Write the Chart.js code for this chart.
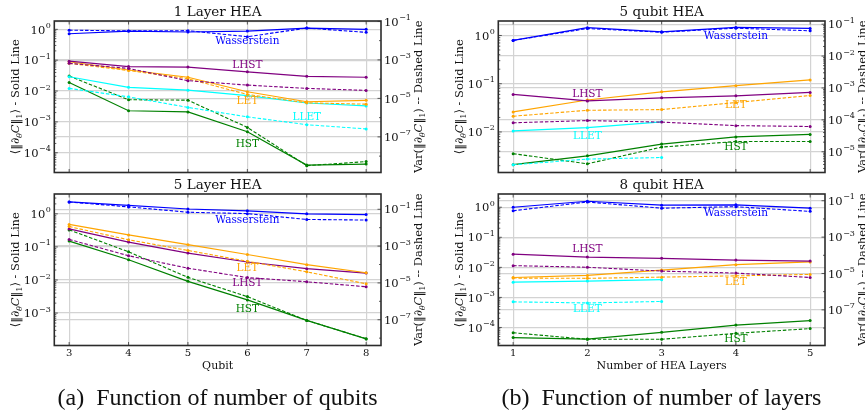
<!DOCTYPE html>
<html>
<head>
<meta charset="utf-8">
<script src="https://cdn.jsdelivr.net/npm/chart.js@4.4.1/dist/chart.umd.min.js"></script>
<style>
  html, body { margin: 0; padding: 0; background: #fff; overflow: hidden; width: 865px; height: 416px; }
  canvas { position: absolute; }
  .caption {
    position: absolute; top: 384px; line-height: 26px;
    font-family: "Liberation Serif", serif; font-size: 24px; color: #111;
    white-space: pre; transform: translateX(-50%);
  }
</style>
</head>
<body>
<canvas id="c1" width="430" height="190" style="left:0;top:0"></canvas>
<canvas id="c2" width="430" height="205" style="left:0;top:173px"></canvas>
<canvas id="c3" width="421" height="190" style="left:444px;top:0"></canvas>
<canvas id="c4" width="421" height="205" style="left:444px;top:173px"></canvas>
<div class="caption" style="left:217.5px">(a)  Function of number of qubits</div>
<div class="caption" style="left:661.5px">(b)  Function of number of layers</div>
<script>
// x values
const qubits = [3, 4, 5, 6, 7, 8];
const layers = [1, 2, 3, 4, 5];

// 1 layer HEA, mean gradient norm (solid) and its variance (dashed)
const l1WassMean = [0.72, 0.88, 0.82, 0.88, 1.10, 1.00];
const l1WassVar  = [0.035, 0.032, 0.033, 0.016, 0.045, 0.027];
const l1LhstMean = [0.093, 0.062, 0.060, 0.042, 0.030, 0.028];
const l1LhstVar  = [6.6e-4, 3.6e-4, 8.3e-5, 4.9e-5, 3.3e-5, 2.6e-5];
const l1LetMean  = [0.089, 0.048, 0.028, 0.0095, 0.0045, 0.0050];
const l1LetVar   = [6.6e-4, 2.8e-4, 1.05e-4, 1.6e-5, 5.9e-6, 5.0e-6];
const l1LletMean = [0.029, 0.0132, 0.0107, 0.0071, 0.0041, 0.0033];
const l1LletVar  = [3.3e-5, 1.2e-5, 3.4e-6, 1.1e-6, 4.3e-7, 2.6e-7];
const l1HstMean  = [0.019, 0.0023, 0.0021, 4.8e-4, 4.0e-5, 4.3e-5];
const l1HstVar   = [1.45e-4, 8.5e-6, 8.1e-6, 3.1e-7, 3.2e-9, 5.2e-9];

// 5 layer HEA
const l5WassMean = [2.3, 1.8, 1.4, 1.23, 1.0, 0.95];
const l5WassVar  = [0.25, 0.135, 0.069, 0.058, 0.028, 0.026];
const l5LetMean  = [0.48, 0.23, 0.117, 0.059, 0.029, 0.0166];
const l5LetVar   = [0.0115, 0.0022, 5.8e-4, 1.5e-4, 4.0e-5, 8.9e-6];
const l5LhstMean = [0.35, 0.14, 0.065, 0.035, 0.022, 0.0162];
const l5LhstVar  = [0.0023, 3.0e-4, 6.3e-5, 1.95e-5, 1.15e-5, 6.2e-6];
const l5HstMean  = [0.15, 0.041, 0.0091, 0.0025, 6.0e-4, 1.66e-4];
const l5HstVar   = [0.0076, 4.9e-4, 2.0e-5, 1.8e-6, 9.1e-8, 9.3e-9];

// 5 qubit HEA, varying layers
const q5WassMean = [0.79, 1.45, 1.19, 1.47, 1.40];
const q5WassVar  = [0.031, 0.073, 0.056, 0.075, 0.062];
const q5LhstMean = [0.060, 0.044, 0.051, 0.056, 0.066];
const q5LhstVar  = [8.1e-5, 9.5e-5, 8.5e-5, 6.6e-5, 6.2e-5];
const q5LetMean  = [0.026, 0.046, 0.068, 0.091, 0.12];
const q5LetVar   = [1.3e-4, 2.0e-4, 2.1e-4, 3.5e-4, 5.8e-4];
const q5LletMean = [0.0105, 0.0123, 0.0162];
const q5LletVar  = [3.9e-6, 5.9e-6, 6.6e-6];
const q5HstMean  = [0.0021, 0.0032, 0.0056, 0.0079, 0.0089];
const q5HstVar   = [8.7e-6, 4.2e-6, 1.4e-5, 2.1e-5, 2.1e-5];

// 8 qubit HEA
const q8WassMean = [1.0, 1.58, 1.17, 1.2, 0.93];
const q8WassVar  = [0.028, 0.085, 0.039, 0.047, 0.026];
const q8LhstMean = [0.0275, 0.022, 0.020, 0.0174, 0.0162];
const q8LhstVar  = [2.7e-5, 2.2e-5, 1.35e-5, 1.05e-5, 6.0e-6];
const q8LetMean  = [0.0046, 0.0054, 0.0081, 0.0123, 0.0151];
const q8LetVar   = [5.6e-6, 5.4e-6, 6.3e-6, 7.4e-6, 8.9e-6];
const q8LletMean = [0.0032, 0.0035, 0.0039];
const q8LletVar  = [2.75e-7, 2.4e-7, 2.9e-7];
const q8HstMean  = [4.6e-5, 4.1e-5, 6.9e-5, 1.2e-4, 1.7e-4];
const q8HstVar   = [5.5e-9, 2.4e-9, 2.4e-9, 5.1e-9, 9.3e-9];

const COLORS = { Wasserstein: '#0000ff', LHST: '#800080', LET: '#ffa500', LLET: '#00ffff', HST: '#008000' };
const PLOT = { left: 54.3, right: 381, top: 21, height: 151.5 };
const SERIF = '"DejaVu Serif", serif';

const panels = [
  { id: 'c1', title: '1 Layer HEA', xs: qubits, xRange: [2.75, 8.25],
    left: [-4.64, 0.27], right: [-8.85, -0.98], rightStep: 2, xLabel: null,
    series: [['Wasserstein', l1WassMean, l1WassVar], ['LHST', l1LhstMean, l1LhstVar],
             ['LET', l1LetMean, l1LetVar], ['LLET', l1LletMean, l1LletVar], ['HST', l1HstMean, l1HstVar]],
    notes: [['Wasserstein', 6, -0.40], ['LHST', 6, -1.18], ['LET', 6, -2.32], ['LLET', 7, -2.86], ['HST', 6, -3.72]] },
  { id: 'c2', title: '5 Layer HEA', xs: qubits, xRange: [2.75, 8.25],
    left: [-3.98, 0.60], right: [-8.40, -0.17], rightStep: 2, xLabel: 'Qubit',
    series: [['Wasserstein', l5WassMean, l5WassVar], ['LET', l5LetMean, l5LetVar],
             ['LHST', l5LhstMean, l5LhstVar], ['HST', l5HstMean, l5HstVar]],
    notes: [['Wasserstein', 6, -0.18], ['LET', 6, -1.64], ['LHST', 6, -2.11], ['HST', 6, -2.88]] },
  { id: 'c3', title: '5 qubit HEA', xs: layers, xRange: [0.8, 5.2],
    left: [-2.84, 0.30], right: [-5.65, -0.90], rightStep: 1, xLabel: null,
    series: [['Wasserstein', q5WassMean, q5WassVar], ['LHST', q5LhstMean, q5LhstVar],
             ['LET', q5LetMean, q5LetVar], ['LLET', q5LletMean, q5LletVar], ['HST', q5HstMean, q5HstVar]],
    notes: [['Wasserstein', 4, -0.007], ['LHST', 2, -1.22], ['LET', 4, -1.44], ['LLET', 2, -2.08], ['HST', 4, -2.32]] },
  { id: 'c4', title: '8 qubit HEA', xs: layers, xRange: [0.8, 5.2],
    left: [-4.6, 0.44], right: [-8.96, -0.63], rightStep: 2, xLabel: 'Number of HEA Layers',
    series: [['Wasserstein', q8WassMean, q8WassVar], ['LHST', q8LhstMean, q8LhstVar],
             ['LET', q8LetMean, q8LetVar], ['LLET', q8LletMean, q8LletVar], ['HST', q8HstMean, q8HstVar]],
    notes: [['Wasserstein', 4, -0.2], ['LHST', 2, -1.4], ['LET', 4, -2.48], ['LLET', 2, -3.4], ['HST', 4, -4.4]] }
];

function decadeTicks(lo, hi, step) {
  const out = [];
  for (let e = Math.ceil(lo - 1e-9); e <= Math.floor(hi + 1e-9); e++) {
    if (step === 2 && Math.abs(e) % 2 === 0) continue;
    out.push({ value: Math.pow(10, e) });
  }
  return out;
}

// "10" with a raised exponent
function drawPow(ctx, exp, x, y, align) {
  const sup = exp < 0 ? '\u2212' + (-exp) : String(exp);
  ctx.font = '11.5px ' + SERIF;
  const wb = ctx.measureText('10').width;
  ctx.font = '8px ' + SERIF;
  const ws = ctx.measureText(sup).width;
  const x0 = align === 'right' ? x - wb - ws - 0.5 : x;
  ctx.textAlign = 'left';
  ctx.textBaseline = 'alphabetic';
  ctx.font = '11.5px ' + SERIF;
  ctx.fillText('10', x0, y + 4.2);
  ctx.font = '8px ' + SERIF;
  ctx.fillText(sup, x0 + wb + 0.5, y - 1.5);
}

// rotated label made of plain / italic / subscript pieces
function drawRich(ctx, parts, cx, cy, size) {
  ctx.save();
  ctx.translate(cx, cy);
  ctx.rotate(-Math.PI / 2);
  ctx.textAlign = 'left';
  ctx.textBaseline = 'alphabetic';
  const fontOf = p => (p.italic ? 'italic ' : '') + (p.sub ? size * 0.7 : size) + 'px ' + SERIF;
  let total = 0;
  parts.forEach(p => { ctx.font = fontOf(p); p.w = ctx.measureText(p.t).width; total += p.w; });
  let x = -total / 2;
  parts.forEach(p => {
    ctx.font = fontOf(p);
    ctx.fillText(p.t, x, size * 0.36 + (p.sub ? size * 0.22 : 0));
    x += p.w;
  });
  ctx.restore();
}

const leftLabel = [{ t: '\u27E8\u2016\u2202' }, { t: '\u03B8', sub: true, italic: true }, { t: 'C', italic: true },
                   { t: '\u2016' }, { t: '1', sub: true }, { t: '\u27E9 - Solid Line' }];
const rightLabel = [{ t: 'Var(\u2016\u2202' }, { t: '\u03B8', sub: true, italic: true }, { t: 'C', italic: true },
                    { t: '\u2016' }, { t: '1', sub: true }, { t: ') -- Dashed Line' }];

function makePanel(cfg) {
  const canvas = document.getElementById(cfg.id);
  const W = canvas.width, H = canvas.height;
  const datasets = [];
  cfg.series.forEach(([name, mean, vari]) => {
    const color = COLORS[name];
    const pts = arr => arr.map((v, i) => ({ x: cfg.xs[i], y: v }));
    datasets.push({ label: name + ' var', data: pts(vari), yAxisID: 'y2', borderColor: color,
      backgroundColor: color, borderWidth: 1.1, borderDash: [3.5, 1.8], pointRadius: 1.5, pointBorderWidth: 0 });
    datasets.push({ label: name + ' mean', data: pts(mean), yAxisID: 'y', borderColor: color,
      backgroundColor: color, borderWidth: 1.2, pointRadius: 1.5, pointBorderWidth: 0 });
  });

  const gridStyle = { color: '#d3d3d3', lineWidth: 1.2, drawTicks: false };

  const decor = {
    id: 'decor',
    afterDraw(chart) {
      const ctx = chart.ctx, a = chart.chartArea;
      const sx = chart.scales.x, sy = chart.scales.y, sy2 = chart.scales.y2;
      ctx.save();
      ctx.fillStyle = '#111';

      // tick marks, pointing inward
      ctx.strokeStyle = '#333';
      ctx.lineWidth = 0.8;
      const line = (x1, y1, x2, y2) => { ctx.beginPath(); ctx.moveTo(x1, y1); ctx.lineTo(x2, y2); ctx.stroke(); };
      cfg.xs.forEach(v => {
        const px = sx.getPixelForValue(v);
        line(px, a.bottom, px, a.bottom - 3.5);
        line(px, a.top, px, a.top + 3.5);
      });
      for (let e = Math.floor(cfg.left[0]); e <= Math.ceil(cfg.left[1]); e++) {
        for (let k = 1; k <= 9; k++) {
          const lv = e + Math.log10(k);
          if (lv < cfg.left[0] || lv > cfg.left[1]) continue;
          const py = sy.getPixelForValue(Math.pow(10, lv));
          line(a.left, py, a.left + (k === 1 ? 3.5 : 2), py);
        }
      }
      for (let e = Math.floor(cfg.right[0]); e <= Math.ceil(cfg.right[1]); e++) {
        for (let k = 1; k <= 9; k++) {
          if (cfg.rightStep === 2 && k > 1) continue;
          const lv = e + Math.log10(k);
          if (lv < cfg.right[0] || lv > cfg.right[1]) continue;
          const py = sy2.getPixelForValue(Math.pow(10, lv));
          const major = k === 1 && (cfg.rightStep === 1 || Math.abs(e) % 2 === 1);
          line(a.right, py, a.right - (major ? 3.5 : 2), py);
        }
      }

      // frame
      ctx.strokeStyle = '#2b2b2b';
      ctx.lineWidth = 1.6;
      ctx.strokeRect(a.left, a.top, a.right - a.left, a.bottom - a.top);

      // y tick labels
      sy.ticks.forEach(t => drawPow(ctx, Math.round(Math.log10(t.value)), a.left - 3.5, sy.getPixelForValue(t.value), 'right'));
      sy2.ticks.forEach(t => drawPow(ctx, Math.round(Math.log10(t.value)), a.right + 3, sy2.getPixelForValue(t.value), 'left'));

      // x tick labels and axis title on the lower panels
      if (cfg.xLabel) {
        ctx.font = '10px ' + SERIF;
        ctx.textAlign = 'center';
        ctx.textBaseline = 'middle';
        cfg.xs.forEach(v => ctx.fillText(String(v), sx.getPixelForValue(v), a.bottom + 8));
        ctx.font = '11px ' + SERIF;
        ctx.fillText(cfg.xLabel, (a.left + a.right) / 2, a.bottom + 21);
      }

      // panel title
      ctx.font = '13.5px ' + SERIF;
      ctx.textAlign = 'center';
      ctx.textBaseline = 'middle';
      ctx.fillText(cfg.title, (a.left + a.right) / 2, a.top - 9);

      // axis titles
      const midY = (a.top + a.bottom) / 2;
      drawRich(ctx, leftLabel.map(p => ({ ...p })), 15, midY, 11.5);
      drawRich(ctx, rightLabel.map(p => ({ ...p })), a.right + 37, midY, 11.5);

      // series names inside the plot
      ctx.font = '10.5px ' + SERIF;
      cfg.notes.forEach(([name, xv, lv]) => {
        ctx.fillStyle = COLORS[name];
        ctx.fillText(name, sx.getPixelForValue(xv), sy.getPixelForValue(Math.pow(10, lv)));
      });
      ctx.restore();
    }
  };

  new Chart(canvas.getContext('2d'), {
    type: 'line',
    data: { datasets },
    plugins: [decor],
    options: {
      responsive: false,
      animation: false,
      layout: { padding: { top: PLOT.top, left: 0, right: 0, bottom: 0 }, autoPadding: false },
      plugins: { legend: { display: false }, tooltip: { enabled: false } },
      elements: { line: { tension: 0 } },
      scales: {
        x: {
          type: 'linear', min: cfg.xRange[0], max: cfg.xRange[1],
          grid: gridStyle, border: { display: false }, ticks: { display: false },
          afterBuildTicks: s => { s.ticks = cfg.xs.map(v => ({ value: v })); },
          afterFit: s => { s.height = H - PLOT.top - PLOT.height; }
        },
        y: {
          type: 'logarithmic', position: 'left',
          min: Math.pow(10, cfg.left[0]), max: Math.pow(10, cfg.left[1]),
          grid: gridStyle, border: { display: false }, ticks: { display: false },
          afterBuildTicks: s => { s.ticks = decadeTicks(cfg.left[0], cfg.left[1], 1); },
          afterFit: s => { s.width = PLOT.left; }
        },
        y2: {
          type: 'logarithmic', position: 'right',
          min: Math.pow(10, cfg.right[0]), max: Math.pow(10, cfg.right[1]),
          grid: gridStyle, border: { display: false }, ticks: { display: false },
          afterBuildTicks: s => { s.ticks = decadeTicks(cfg.right[0], cfg.right[1], cfg.rightStep); },
          afterFit: s => { s.width = W - PLOT.right; }
        }
      }
    }
  });
}

panels.forEach(makePanel);
</script>
</body>
</html>
